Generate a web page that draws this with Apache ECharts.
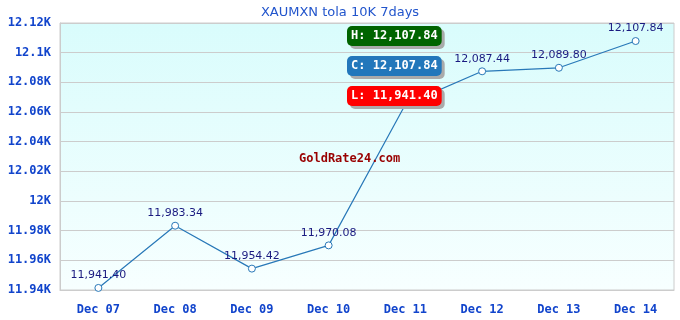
<!DOCTYPE html>
<html><head><meta charset="utf-8">
<script src="https://cdn.jsdelivr.net/npm/echarts@6/dist/echarts.min.js"></script>
<style>html,body{margin:0;padding:0;background:#fff}#c{width:680px;height:320px}</style>
</head><body><div id="c"></div>
<script>
const categories = ['Dec 07','Dec 08','Dec 09','Dec 10','Dec 11','Dec 12','Dec 13','Dec 14'];
const values = [11941.40, 11983.34, 11954.42, 11970.08, 12065.00, 12087.44, 12089.80, 12107.84];
const highText = 'H: 12,107.84';
const closeText = 'C: 12,107.84';
const lowText = 'L: 11,941.40';
const titleText = 'XAUMXN tola 10K 7days';
const watermark = 'GoldRate24.com';

const fmt = v => v.toLocaleString('en-US',{minimumFractionDigits:2,maximumFractionDigits:2});
const mono = '"DejaVu Sans Mono", monospace';
const box = (text, color, top) => ({
  text, left: 347, top,
  backgroundColor: color, borderRadius: 5, padding: [4, 4, 4, 4],
  shadowColor: '#aaa', shadowOffsetX: 3, shadowOffsetY: 3, shadowBlur: 0,
  textStyle: {color:'#fff', fontFamily: mono, fontWeight:'bold', fontSize: 12}
});

const chart = echarts.init(document.getElementById('c'));
chart.setOption({
  animation: false,
  title: [
    {text: titleText, left: 'center', top: 1, textStyle:{color:'#2255cc', fontSize:13, fontWeight:'normal', fontFamily:'"DejaVu Sans", sans-serif'}},
    box(highText, '#006400', 26),
    box(closeText, '#2277bb', 56),
    box(lowText, '#ff0000', 86),
    {text: watermark, left: 294, top: 148, textStyle:{color:'#990000', fontSize:12, fontWeight:'bold', fontFamily: mono}}
  ],
  grid: {left: 60, right: 6, top: 23, bottom: 30, show: true, borderColor: '#ccc', borderWidth: 1,
    backgroundColor: new echarts.graphic.LinearGradient(0,0,0,1,[{offset:0,color:'#d9fcfc'},{offset:1,color:'#f7ffff'}])},
  xAxis: {type:'category', data: categories, boundaryGap: true,
    axisLine:{lineStyle:{color:'#ccc'}}, axisTick:{show:false},
    axisLabel:{color:'#1144cc', fontFamily: mono, fontWeight:'bold', fontSize:12, margin: 14}},
  yAxis: {type:'value', min: 11940, max: 12120, interval: 20,
    axisLine:{show:true, lineStyle:{color:'#ccc'}}, axisTick:{show:false},
    splitLine:{lineStyle:{color:'#ccc'}},
    axisLabel:{color:'#1144cc', fontFamily: mono, fontWeight:'bold', fontSize:12, margin: 9,
      formatter: v => (Math.round(v)/1000).toString() + 'K'}},
  series: [{
    type:'line', data: values, z: 1,
    symbol:'circle', symbolSize: 7,
    itemStyle:{color:'#fff', borderColor:'#2878b8', borderWidth:1},
    lineStyle:{color:'#2878b8', width:1.2},
    label:{show:true, position:'top', distance: 3, color:'#1a1a80', fontSize:11, fontFamily:'"DejaVu Sans", sans-serif', formatter: p => fmt(p.value)}
  }]
});
</script></body></html>
